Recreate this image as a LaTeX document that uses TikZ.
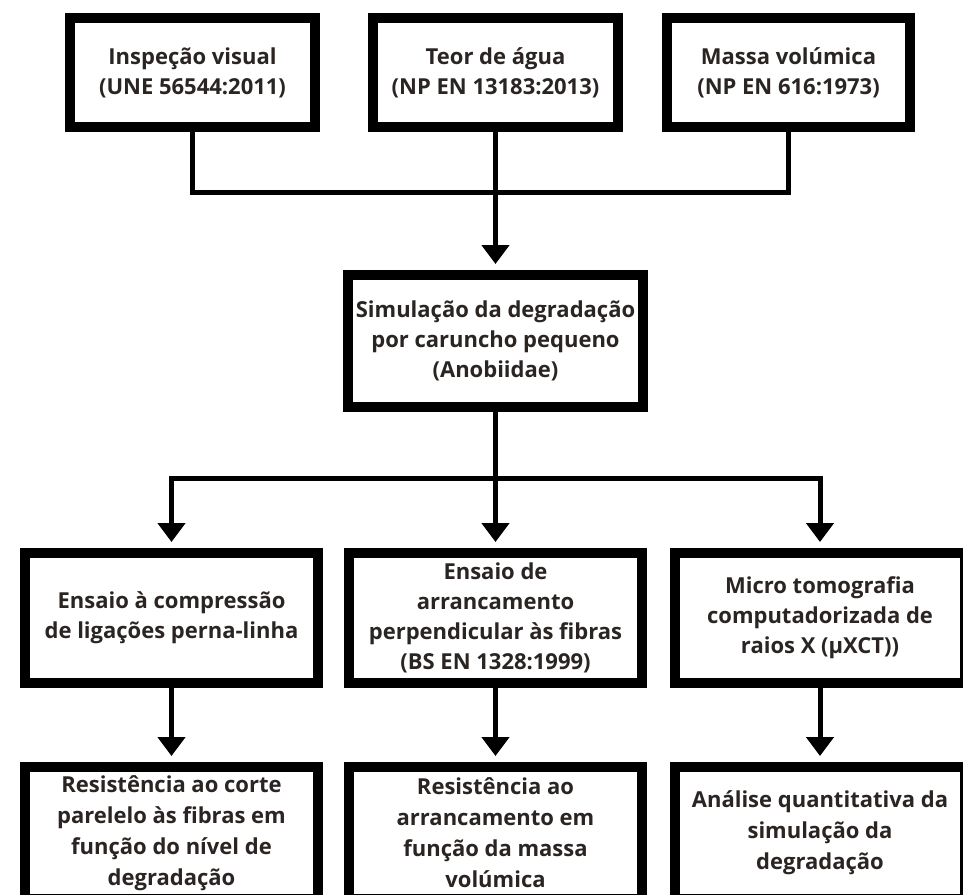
\documentclass[tikz,border=0pt]{standalone}
\usepackage{fontspec}
\setmainfont{Open Sans}
\usepackage{xcolor}
\usepackage{tikz}
\usetikzlibrary{arrows.meta,positioning,calc}
\definecolor{ink}{HTML}{2A2522}

\begin{document}
\begin{tikzpicture}[x=1pt,y=-1pt, font=\bfseries\fontsize{22pt}{30pt}\selectfont, box/.style={draw=black,line width=10pt,align=center,text=ink,fill=white,inner sep=0pt}, wide/.style={minimum width=293pt,minimum height=130pt}, result/.style={box,wide,minimum height=132pt,font=\bfseries\fontsize{22pt}{31pt}\selectfont}, conn/.style={line width=5pt}, arr/.style={conn,-{Triangle[width=27pt,length=19pt]},shorten >=6pt}]
\clip (0,0) rectangle (963,894);
\fill[white] (0,0) rectangle (963,894);
% top row
\node[box,minimum width=245pt,minimum height=109pt] (insp) at (192.5,72.5) {Inspeção visual\\(UNE 56544:2011)};
\node[box,minimum width=245pt,minimum height=109pt,right=48pt of insp] (teor) {Teor de água\\(NP EN 13183:2013)};
\node[box,minimum width=243pt,minimum height=109pt,right=39pt of teor] (massa) {Massa volúmica\\(NP EN 616:1973)};
\node[box,minimum width=295pt,minimum height=132pt,below=138pt of teor] (simul) {Simulação da degradação\\por caruncho pequeno\\(Anobiidae)};
% tests
\node[box,wide] (ensaio) at (171.5,618) {Ensaio à compressão\\de ligações perna-linha};
\node[box,wide,right=21pt of ensaio] (arranc) {Ensaio de\\arrancamento\\perpendicular às fibras\\(BS EN 1328:1999)};
\node[box,wide,minimum width=290pt,right=23pt of arranc] (micro) {Micro tomografia\\computadorizada de\\raios X (µXCT))};
% results
\node[result,below=74pt of ensaio] (corte) {Resistência ao corte\\parelelo às fibras em\\função do nível de\\degradação};
\node[result,below=74pt of arranc] (resarr) {Resistência ao\\arrancamento em\\função da massa\\volúmica};
\node[result,minimum width=290pt,below=74pt of micro] (analise) {Análise quantitativa da\\simulação da\\degradação};
\coordinate (merge) at (teor.south |- 0,192);
\coordinate (split) at (simul.south |- 0,478);
\draw[conn] (insp) |- (merge) -| (massa);
\draw[arr] (teor) -- (simul);
\draw[conn] (simul) -- (split);
\draw[arr] (split) -| (ensaio);
\draw[arr] (split) -- (arranc);
\draw[arr] (split) -| (micro);
\draw[arr] (ensaio) -- (corte);
\draw[arr] (arranc) -- (resarr);
\draw[arr] (micro) -- (analise);
\end{tikzpicture}
\end{document}
